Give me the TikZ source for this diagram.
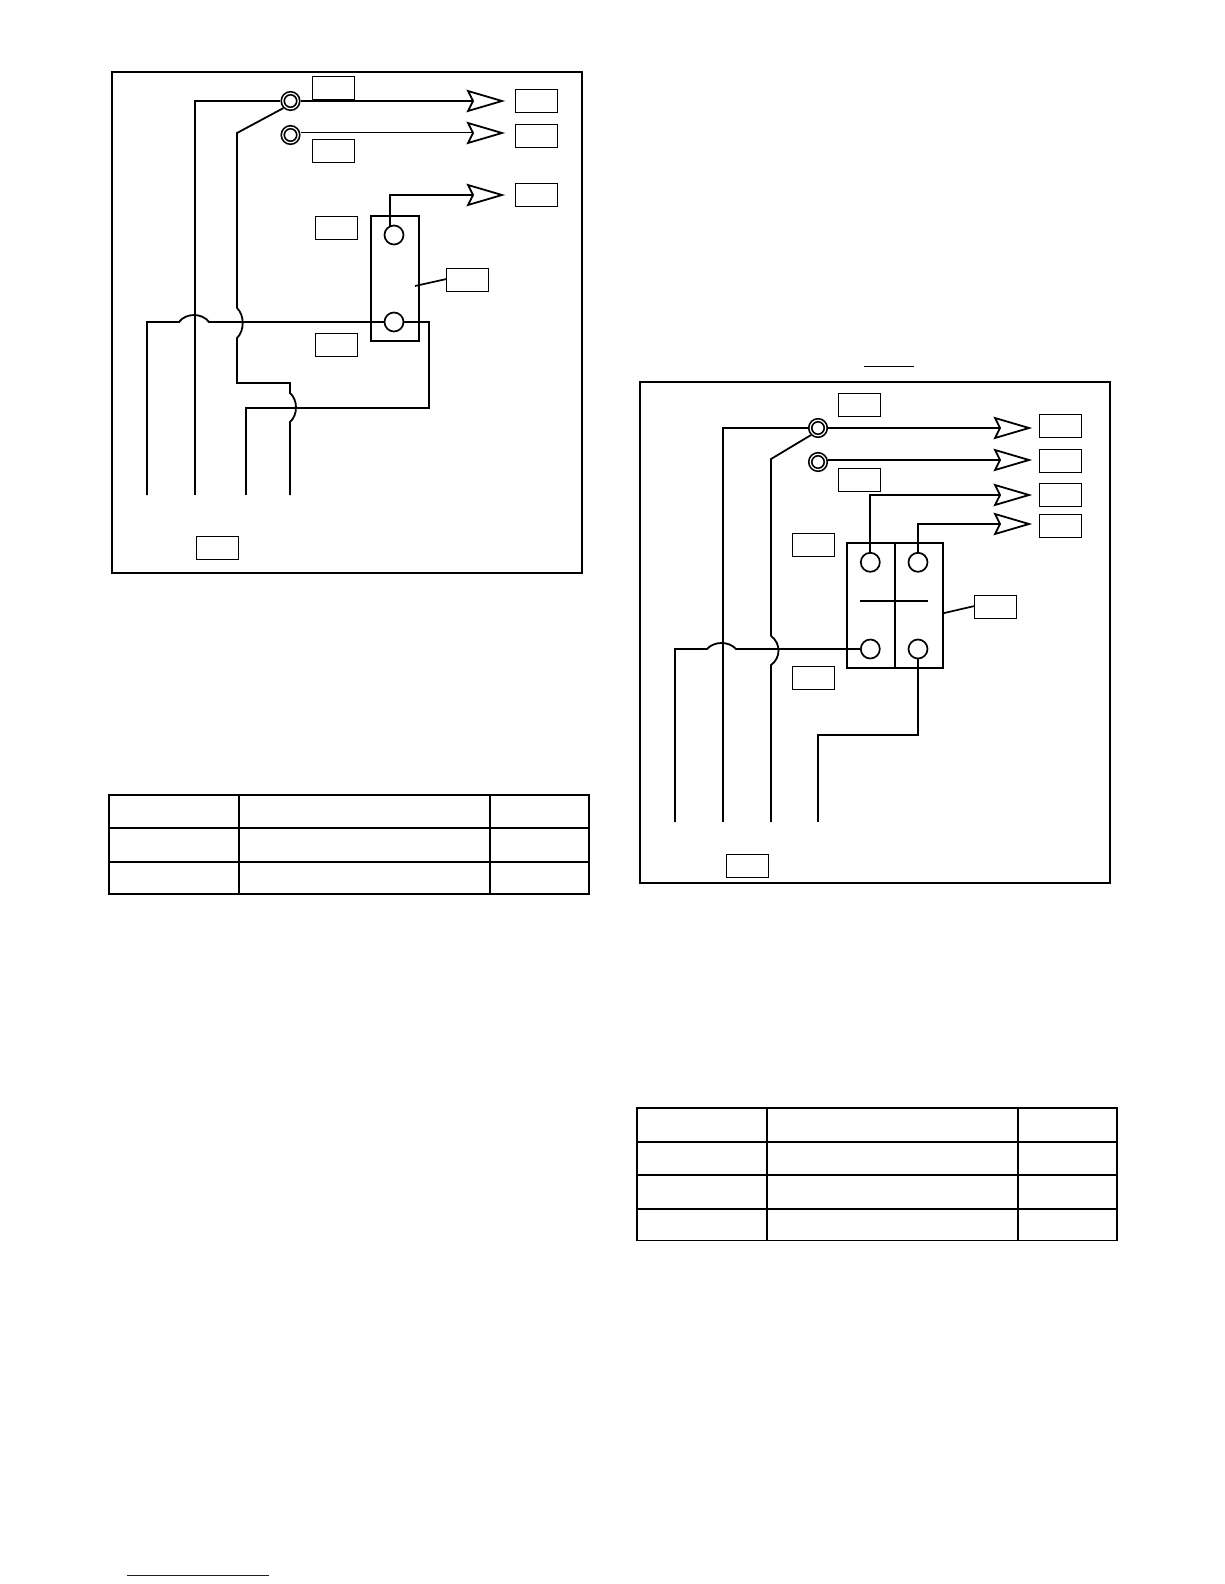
\documentclass[tikz,border=0pt]{standalone}
\tikzset{
  lab/.style={draw=black,line width=1pt,fill=white,minimum width=42pt,minimum height=23pt,inner sep=0pt,outer sep=0pt},
  frm/.style={draw=black,line width=2pt,inner sep=0pt,outer sep=0pt},
  wire/.style={draw=black,line width=1.8pt,line join=miter},
  thinwire/.style={draw=black,line width=1pt},
  leader/.style={draw=black,line width=1.7pt},
  term/.style={circle,draw=black,line width=1.7pt,fill=white,minimum size=19pt,inner sep=0pt,outer sep=0pt},
  ring/.style={circle,double=white,draw=black,line width=1.7pt,double distance=1.2pt,fill=white,minimum size=15.5pt,inner sep=0pt,outer sep=2.3pt},
  relay/.style={draw=black,line width=1.8pt,inner sep=0pt,outer sep=0pt},
  head/.style={draw=black,line width=1.8pt,fill=white,line join=miter},
  tbl/.style={draw=black,line width=1.8pt}
}
\newcommand{\arrowshape}[3]{%
  \coordinate (#1) at (#2,#3);
  \path[head] (#2,#3) -- (#2-5,#3-10) -- (#2+29,#3) -- (#2-5,#3+10) -- cycle;
}
\begin{document}
\begin{tikzpicture}[x=1pt,y=-1pt]
\useasboundingbox (0,0) rectangle (1224,1584);
\fill[white] (0,0) rectangle (1224,1584);

% ---------- left frame ----------
\node[frm,minimum width=470pt,minimum height=501pt] (lframe) at (347,322.5) {};

\node[ring] (lt1) at (290.5,101) {};
\node[ring] (lt2) at (290.5,135) {};
\node[relay,minimum width=48pt,minimum height=125pt] (lrelay) at (395,278.5) {};
\node[term] (lc1) at (394,235) {};
\node[term] (lc2) at (394,322) {};

\arrowshape{la1}{473}{101}
\arrowshape{la2}{473}{133}
\arrowshape{la3}{473}{195}

\node[lab] (lb1) at (333.5,88) {};
\node[lab] (lb2) at (536.5,101) {};
\node[lab] (lb3) at (536.5,136) {};
\node[lab] (lb4) at (333.5,151) {};
\node[lab] (lb5) at (536.5,195) {};
\node[lab] (lb6) at (336.5,228) {};
\node[lab] (lb7) at (467.5,280) {};
\node[lab] (lb8) at (336.5,345) {};
\node[lab] (lb9) at (217.5,548) {};

\coordinate (lw1) at (147,495);
\coordinate (lw2) at (195,495);
\coordinate (lw3) at (246,495);
\coordinate (lw4) at (290,495);
\coordinate (lld) at (415,286);

\draw[wire] (lw2) -- (195,101) -- (lt1.west);
\draw[wire] (lt1.east) -- (la1);
\draw[thinwire] (lt2.east |- la2) -- (la2);
\draw[wire] (237,308) -- (237,133) -- (lt1.south west);
\draw[wire] (237,308) .. controls (244.6,315) and (244.6,331) .. (237,338) -- (237,383) -- (290,383) -- (290,393)
   .. controls (298,400) and (298,415) .. (290,422) -- (lw4);
\draw[wire] (lw1) -- (147,322) -- (179,322) .. controls (186,312.7) and (202,312.7) .. (209,322) -- (lc2.west);
\draw[wire] (lc2.east) -- (429,322) -- (429,408) -- (246,408) -- (lw3);
\draw[wire] (lc1.north -| 390,0) -- (390,195) -- (la3);
\draw[leader] (lld) -- (lb7.west |- 0,279);

% ---------- right frame ----------
\draw[thinwire] (864,366) coordinate (rtop1) -- (914,366) coordinate (rtop2);
\node[frm,minimum width=470pt,minimum height=501pt] (rframe) at (875,632.5) {};

\node[ring] (rt1) at (818,428) {};
\node[ring] (rt2) at (818,462) {};
\node[relay,minimum width=96pt,minimum height=125pt] (rrelay) at (895,605.5) {};
\node[term] (rc1) at (870.3,562.3) {};
\node[term] (rc2) at (918,562.3) {};
\node[term] (rc3) at (870.3,649) {};
\node[term] (rc4) at (918,649) {};

\arrowshape{ra1}{1000}{428}
\arrowshape{ra2}{1000}{460}
\arrowshape{ra3}{1000}{495}
\arrowshape{ra4}{1000}{524}

\node[lab] (rb1) at (859.5,405) {};
\node[lab] (rb2) at (1060.5,426) {};
\node[lab] (rb3) at (1060.5,461) {};
\node[lab] (rb4) at (1060.5,495) {};
\node[lab] (rb5) at (1060.5,526) {};
\node[lab] (rb6) at (859.5,480) {};
\node[lab] (rb7) at (813.5,545) {};
\node[lab] (rb8) at (995.5,607) {};
\node[lab] (rb9) at (813.5,678) {};
\node[lab] (rb10) at (747.5,866) {};

\coordinate (rw1) at (675,822);
\coordinate (rw2) at (723,822);
\coordinate (rw3) at (771,822);
\coordinate (rw4) at (818,822);

\draw[wire] (895,543) -- (895,668);
\draw[wire] (860,601) -- (928,601);
\draw[wire] (rw2) -- (723,428) -- (rt1.west);
\draw[wire] (rt1.east) -- (ra1);
\draw[wire] (rt2.east |- ra2) -- (ra2);
\draw[wire] (771,636) -- (771,459) -- (rt1.south west);
\draw[wire] (771,636) .. controls (781,643) and (781,658) .. (771,665) -- (rw3);
\draw[wire] (rw1) -- (675,649) -- (707,649) .. controls (714,641) and (729,641) .. (736,649) -- (rc3.west);
\draw[wire] (rc1.north) -- (870.3,495) -- (ra3);
\draw[wire] (rc2.north) -- (918,524) -- (ra4);
\draw[wire] (rc4.south) -- (918,735) -- (818,735) -- (rw4);
\draw[leader] (rrelay.east |- 0,613.3) -- (rb8.west |- 0,606);

% ---------- left table ----------
\draw[tbl] (109,795) rectangle (589,894);
\draw[tbl] (109,828) -- (589,828) (109,862) -- (589,862);
\draw[tbl] (239,795) -- (239,894) (490,795) -- (490,894);

% ---------- right table ----------
\draw[tbl] (637,1108) rectangle (1117,1240.5);
\draw[tbl] (637,1142) -- (1117,1142) (637,1175) -- (1117,1175) (637,1209) -- (1117,1209);
\draw[tbl] (767,1108) -- (767,1240.5) (1018,1108) -- (1018,1240.5);

% ---------- footnote rule ----------
\draw[draw={rgb,255:red,10;green,20;blue,140},line width=1pt] (127,1575.3) -- (269,1575.3);
\end{tikzpicture}
\end{document}
